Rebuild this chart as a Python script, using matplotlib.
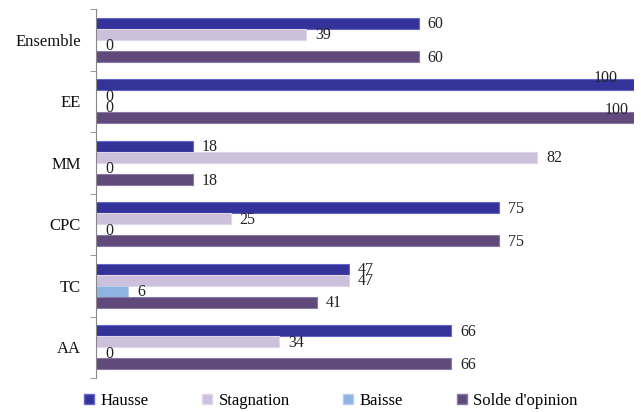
import matplotlib
matplotlib.use("Agg")
import matplotlib.pyplot as plt
import numpy as np
from matplotlib.patches import Patch

categories = ["Ensemble", "EE", "MM", "CPC", "TC", "AA"]
series_names = ["Hausse", "Stagnation", "Baisse", "Solde d'opinion"]
hausse = [60, 100, 18, 75, 47, 66]
stagnation = [39, 0, 82, 25, 47, 34]
baisse = [0, 0, 0, 0, 6, 0]
solde = [60, 100, 18, 75, 41, 66]
colors = ["#333399", "#CCC0DA", "#8DB4E2", "#604A7B"]
edges = ["#6666cc", "#e0d8ea", "#b8d0ee", "#8a78a4"]

plt.rcParams['font.family'] = ['Liberation Serif', 'DejaVu Serif']

fig = plt.figure(figsize=(6.41, 4.12), dpi=100)
ax = fig.add_axes([0.1498, 0.0825, 0.8392, 0.8955])

n = len(categories)
bh = 0.18
data = [hausse, stagnation, baisse, solde]
ypos = np.arange(n)
full_offsets = {0: (-11.5, 4.5), 3: (-3.6, 5.5)}
for i, (vals, c, ec) in enumerate(zip(data, colors, edges)):
    y = ypos + (i - 1.5) * bh
    ax.barh(y, vals, height=bh, color=c, edgecolor=ec, linewidth=0.8)
    for yy, v in zip(y, vals):
        if v >= 100:
            ax.annotate(str(v), (v, yy), xytext=full_offsets.get(i, (-3, 5)),
                        textcoords='offset points',
                        ha='right', va='center', fontsize=11.5, color='#222222')
        else:
            ax.annotate(str(v), (v, yy), xytext=(6.5, -0.8), textcoords='offset points',
                        ha='left', va='center', fontsize=11.5, color='#222222')

ax.set_xlim(0, 100)
ax.set_ylim(n - 0.5, -0.5)
ax.set_yticks(ypos)
ax.set_yticklabels(categories, fontsize=12, color='#111111')
ax.set_yticks(np.arange(n + 1) - 0.5, minor=True)
ax.tick_params(axis='y', which='major', length=0, pad=11)
ax.tick_params(axis='y', which='minor', length=4, color='#888888', direction='out')
ax.set_xticks([])
for s in ['top', 'right', 'bottom']:
    ax.spines[s].set_visible(False)
ax.spines['left'].set_color('#888888')

handles = [Patch(facecolor=c, edgecolor=ec, label=l) for c, ec, l in zip(colors, edges, series_names)]
fig.legend(handles=handles, loc='center', bbox_to_anchor=(0.516, 0.027), ncol=4,
           frameon=False, fontsize=12, handlelength=0.6, handleheight=0.6,
           handletextpad=0.4, columnspacing=3.2, borderpad=0)

fig.savefig("out.png", dpi=100)
